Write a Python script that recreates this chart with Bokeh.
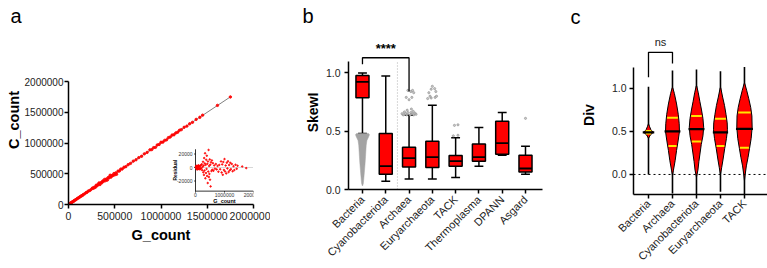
import numpy as np
from math import pi
from bokeh.plotting import figure
from bokeh.layouts import row, column
from bokeh.models import (Range1d, FixedTicker, BasicTickFormatter, PrintfTickFormatter, Span)
from bokeh.core.properties import value
from bokeh.embed import file_html
from bokeh.resources import INLINE

FONT = "Liberation Sans"

# ------------------------------------------------------------------ data: panel a
g_count = [15000, 22000, 30000, 38000, 45000, 55000, 62000, 70000, 80000, 90000,
           100000, 110000, 120000, 130000, 140000, 150000, 160000, 175000, 190000, 200000,
           215000, 230000, 245000, 260000, 270000, 280000, 290000, 300000, 310000, 320000,
           330000, 340000, 350000, 360000, 370000, 380000, 390000, 400000, 410000, 420000,
           430000, 440000, 450000, 460000, 470000, 480000, 490000, 500000, 510000, 520000,
           535000, 550000, 565000, 580000, 600000, 620000, 645000, 670000, 700000, 730000,
           760000, 790000, 820000, 850000, 880000, 900000, 920000, 940000, 960000, 980000,
           1000000, 1020000, 1040000, 1060000, 1080000, 1100000, 1120000, 1140000, 1160000, 1180000,
           1200000, 1220000, 1250000, 1280000, 1310000, 1340000, 1380000, 1420000, 1450000, 1610000,
           1750000]
residual = [1200, -800, 2500, -1500, 600, -3000, 1800, 2000, -2200, 900,
            3200, -2100, 1500, -600, 2200, -2800, 2100, -1400, 3600, -1200,
            4800, -3900, 1000, 8500, -7200, 2800, -11000, 14000, -4500, 6100,
            21000, -16000, 3900, -8200, 11500, -2100, 17500, -12500, 5500, -23000,
            9000, -6000, 26000, -14000, 2400, -9500, 12000, -18000, 4200, -28000,
            7600, -5200, 10500, -3300, 6400, -4800, 3100, -1700, 5200, -2800,
            2300, -6200, 3800, -2600, 9000, -7400, 4600, -10800, 8200, -3600,
            12500, -5900, 2900, -8800, 7100, -1400, 9200, -6800, 3700, -4300,
            6900, -2500, 5300, -5600, 2000, -3800, 4100, -1900, 2600, 1500,
            -900]
c_count = [g + r for g, r in zip(g_count, residual)]
fit_g = [0, 1750000]
fit_c = [0, 1750000]
a_ticks = [0, 500000, 1000000, 1500000, 2000000]
inset_x_ticks = [0, 1000000, 2000000]
inset_y_ticks = [-20000, 0, 20000]
inset_y_limits = [-35000, 27000]

# ------------------------------------------------------------------ data: panel b
b_cats = ["Bacteria", "Cyanobacteriota", "Archaea", "Euryarchaeota", "TACK",
          "Thermoplasma", "DPANN", "Asgard"]
b_low = [0.48, 0.071, 0.091, 0.091, 0.103, 0.200, 0.294, 0.131]
b_q1 = [0.786, 0.131, 0.194, 0.189, 0.200, 0.243, 0.303, 0.151]
b_med = [0.923, 0.200, 0.269, 0.277, 0.243, 0.277, 0.397, 0.180]
b_q3 = [0.977, 0.480, 0.363, 0.414, 0.291, 0.391, 0.586, 0.294]
b_high = [1.000, 0.974, 0.637, 0.723, 0.443, 0.531, 0.660, 0.371]
out_cat = [2] * 22 + [3] * 10 + [4] * 4 + [7]
out_val = [0.64, 0.64, 0.64, 0.64, 0.645, 0.65, 0.65, 0.65, 0.655, 0.66, 0.66, 0.665, 0.67,
           0.68, 0.69, 0.77, 0.79, 0.79, 0.83, 0.84, 0.85, 0.85,
           0.78, 0.785, 0.79, 0.80, 0.80, 0.83, 0.84, 0.86, 0.865, 0.885,
           0.46, 0.465, 0.55, 0.555,
           0.61]
out_jit = [-0.25, -0.1, 0.05, 0.2, 0.3, -0.3, -0.15, 0.12, 0.25, -0.05, 0.08, -0.2, 0.18,
           -0.08, 0.1, 0.0, -0.12, 0.12, 0.2, 0.08, -0.05, 0.15,
           -0.2, -0.05, 0.12, -0.1, 0.18, -0.15, 0.15, -0.05, 0.1, 0.0,
           -0.1, 0.1, -0.05, 0.1,
           0.0]
# Bacteria outlier swarm outline (value level, half width in category units)
swarm_levels = [0.48, 0.47, 0.45, 0.42, 0.38, 0.33, 0.28, 0.22, 0.16, 0.10, 0.05, 0.03]
swarm_half = [0.26, 0.30, 0.26, 0.19, 0.16, 0.145, 0.13, 0.11, 0.085, 0.06, 0.035, 0.0]
b_sig = "****"

# ------------------------------------------------------------------ data: panel c
c_cats = ["Bacteria", "Archaea", "Cyanobacteriota", "Euryarchaeota", "TACK"]
c_min = [0.0, -0.22, -0.25, -0.20, -0.25]
c_q1 = [0.475, 0.33, 0.384, 0.33, 0.31]
c_med = [0.49, 0.50, 0.527, 0.49, 0.53]
c_q3 = [0.505, 0.66, 0.68, 0.647, 0.72]
c_max = [1.02, 1.21, 1.22, 1.20, 1.25]
vio_levels = [
    [0.42, 0.46, 0.49, 0.52, 0.56, 0.59],
    [-0.01, 0.05, 0.16, 0.28, 0.40, 0.50, 0.59, 0.70, 0.82, 0.94, 1.01],
    [-0.03, 0.05, 0.15, 0.25, 0.35, 0.45, 0.55, 0.65, 0.75, 0.85, 0.95, 1.03],
    [0.0, 0.08, 0.18, 0.30, 0.42, 0.52, 0.60, 0.70, 0.80, 0.90, 1.01],
    [-0.07, 0.0, 0.10, 0.20, 0.30, 0.42, 0.55, 0.68, 0.78, 0.88, 0.98, 1.06],
]
vio_half = [
    [0.0, 0.08, 0.20, 0.10, 0.04, 0.0],
    [0.0, 0.04, 0.11, 0.17, 0.24, 0.29, 0.28, 0.24, 0.17, 0.08, 0.01],
    [0.0, 0.06, 0.10, 0.15, 0.20, 0.27, 0.30, 0.27, 0.21, 0.14, 0.075, 0.01],
    [0.0, 0.05, 0.11, 0.175, 0.25, 0.29, 0.28, 0.23, 0.17, 0.09, 0.01],
    [0.0, 0.03, 0.08, 0.15, 0.21, 0.28, 0.32, 0.31, 0.26, 0.18, 0.09, 0.01],
]
c_sig = "ns"

panel_letters = ["a", "b", "c"]

RED = "#ff0000"
YELLOW = "#ffe600"
GRAY = "#a3a3a3"
STRIP_H = 30   # height of the strip holding the panel letters
TOP = 5        # remaining top border of all panels (frames start at y = 35)


def style(p, title_size, tick_standoff=3, label_standoff=3):
    p.outline_line_color = None
    p.xgrid.grid_line_color = None
    p.ygrid.grid_line_color = None
    p.background_fill_color = "white"
    p.border_fill_color = "white"
    for ax in p.axis:
        ax.axis_line_width = 1.5
        ax.axis_line_color = "black"
        ax.major_tick_line_width = 1.5
        ax.major_tick_line_color = "black"
        ax.major_tick_out = 4
        ax.major_tick_in = 0
        ax.minor_tick_line_color = None
        ax.major_label_text_font = FONT
        ax.major_label_text_font_size = "10.5px"
        ax.major_label_text_color = "#222222"
        ax.major_label_standoff = tick_standoff
        ax.axis_label_text_font = FONT
        ax.axis_label_text_font_style = "bold"
        ax.axis_label_text_font_size = title_size
        ax.axis_label_text_color = "black"
        ax.axis_label_standoff = label_standoff


# ================================================================== letter strip
strip = figure(width=767, height=STRIP_H, x_range=Range1d(0, 767), y_range=Range1d(STRIP_H, 0),
               x_axis_type=None, y_axis_type=None, output_backend="svg", toolbar_location=None,
               title=None, min_border=0)
strip.outline_line_color = None
strip.xgrid.grid_line_color = None
strip.ygrid.grid_line_color = None
strip.text([10, 302, 570], [15, 15, 16], text=panel_letters, text_align="left",
           text_baseline="middle", text_font=value(FONT), text_font_size="20px",
           text_color="black")

# ================================================================== panel a
FA_W, FA_H = 185, 169
A_YTOP = 2000000 * FA_H / 123          # axis 0..2e6 occupies the lower 123 px
pa = figure(frame_width=FA_W, frame_height=FA_H, x_range=Range1d(0, 2000000),
            y_range=Range1d(0, A_YTOP), output_backend="svg", toolbar_location=None,
            title=None, min_border_left=68, min_border_right=17, min_border_top=TOP,
            min_border_bottom=64)
style(pa, "14.5px", tick_standoff=1, label_standoff=0)
for ax in (pa.xaxis[0], pa.yaxis[0]):
    ax.ticker = FixedTicker(ticks=a_ticks)
    ax.formatter = BasicTickFormatter(use_scientific=False)
pa.xaxis.major_label_standoff = 3
pa.xaxis.axis_label_standoff = 4
pa.yaxis.major_label_text_font_size = "10px"
pa.yaxis.bounds = (0, 2000000)
pa.xaxis.axis_label = "G_count"
pa.yaxis.axis_label = "C_count"

pa.line(fit_g, fit_c, line_color="#808080", line_width=1)
pa.scatter(g_count, c_count, size=2.4, color=RED, alpha=0.9)

# inset, mapped into the frame through extra ranges
INSET_LEFT, INSET_W = 127, 58           # px from frame left, px for 0..2e6
INSET_ZERO, INSET_PX_20K = 37, 13.5     # px above frame bottom for 0, px per 20000
ux = 2000000 / INSET_W
uy = 20000 / INSET_PX_20K
ix0 = -INSET_LEFT * ux
iy0 = -INSET_ZERO * uy
pa.extra_x_ranges = {"ix": Range1d(ix0, ix0 + FA_W * ux)}
pa.extra_y_ranges = {"iy": Range1d(iy0, iy0 + FA_H * uy)}
kw = dict(x_range_name="ix", y_range_name="iy")
ylo, yhi = inset_y_limits
xhi = inset_x_ticks[-1]
pa.segment([0], [0], [xhi], [0], line_color="#9a9a9a", line_width=0.8, line_dash="1 1", **kw)
pa.segment([0, 0], [ylo, ylo], [0, xhi], [yhi, ylo], line_color="black", line_width=0.8, **kw)
pa.segment([-1.5 * ux] * 3, inset_y_ticks, [0] * 3, inset_y_ticks, line_color="black",
           line_width=0.7, **kw)
pa.segment(inset_x_ticks, [ylo - 1.5 * uy] * 3, inset_x_ticks, [ylo] * 3, line_color="black",
           line_width=0.7, **kw)
pa.scatter(g_count, residual, size=1.5, color=RED, alpha=0.85, **kw)
pa.text([0] * 3, inset_y_ticks, text=[str(t) for t in inset_y_ticks], x_offset=-3,
        text_align="right", text_baseline="middle", text_font=value(FONT),
        text_font_size="5px", text_color="#333333", **kw)
pa.text(inset_x_ticks, [ylo] * 3, text=[str(t) for t in inset_x_ticks], y_offset=1.5,
        text_align="center", text_baseline="top", text_font=value(FONT),
        text_font_size="5px", text_color="#333333", **kw)
pa.text([xhi / 2], [ylo], text=["G_count"], y_offset=6.5, text_align="center",
        text_baseline="top", text_font=value(FONT), text_font_size="5.5px",
        text_font_style="bold", text_color="black", **kw)
pa.text([0], [(ylo + yhi) / 2], text=["Residual"], x_offset=-21, angle=pi / 2,
        text_align="center", text_baseline="middle", text_font=value(FONT),
        text_font_size="5px", text_font_style="bold", text_color="black", **kw)

# ================================================================== panel b
nb = len(b_cats)
xb = list(range(nb))
FB_W, FB_H = 194, 154
pb = figure(frame_width=FB_W, frame_height=FB_H, x_range=Range1d(-0.6, 7.73),
            y_range=Range1d(0, FB_H / 116.6), output_backend="svg", toolbar_location=None,
            title=None, min_border_left=78, min_border_right=3, min_border_top=TOP,
            min_border_bottom=79)
style(pb, "14px", tick_standoff=4, label_standoff=2)
pb.yaxis.axis_label = "SkewI"
pb.yaxis.bounds = (0, 1.1)
pb.yaxis.ticker = FixedTicker(ticks=[0, 0.5, 1.0])
pb.yaxis.formatter = PrintfTickFormatter(format="%.1f")
pb.xaxis.ticker = FixedTicker(ticks=xb)
pb.xaxis.major_label_overrides = {i: c for i, c in enumerate(b_cats)}
pb.xaxis.major_label_orientation = pi / 4
pb.xaxis.major_label_text_font_size = "11px"

BW, CW = 0.28, 0.19
pb.segment(x0=[1.5], y0=[0], x1=[1.5], y1=[1.1], line_color="#b0b0b0", line_width=1,
           line_dash="1 2")
pb.segment(xb, b_low, xb, b_high, line_color="black", line_width=1.5)
pb.segment([x - CW for x in xb], b_high, [x + CW for x in xb], b_high, line_color="black",
           line_width=1.5)
pb.segment([x - CW for x in xb], b_low, [x + CW for x in xb], b_low, line_color="black",
           line_width=1.5)
pb.quad(left=[x - BW for x in xb], right=[x + BW for x in xb], bottom=b_q1, top=b_q3,
        fill_color=RED, line_color="black", line_width=1.5)
pb.segment([x - BW for x in xb], b_med, [x + BW for x in xb], b_med, line_color="black",
           line_width=1.8)
sx_left = [xb[0] - h for h in swarm_half]
sx_right = [xb[0] + h for h in swarm_half]
pb.patch(sx_left + sx_right[::-1], swarm_levels + swarm_levels[::-1], fill_color=GRAY,
         line_color=GRAY, line_width=0.5)
pb.scatter([xb[c] + j for c, j in zip(out_cat, out_jit)], out_val, size=2.2,
           fill_color="#c8c8c8", line_color="#8a8a8a", line_width=0.6)
# significance bracket Bacteria vs Archaea
B_TOP, B_LEFT, B_RIGHT = 1.13, 1.075, 0.84
pb.multi_line([[0, 0, 2, 2]], [[B_LEFT, B_TOP, B_TOP, B_RIGHT]], line_color="black",
              line_width=1.3)
pb.text([1], [B_TOP], text=[b_sig], y_offset=-2, text_align="center",
        text_baseline="bottom", text_font=value(FONT), text_font_size="13px",
        text_font_style="bold", text_color="black")

# ================================================================== panel c
nc = len(c_cats)
xc = list(range(nc))
FC_W, FC_H = 134, 159
pc = figure(frame_width=FC_W, frame_height=FC_H, x_range=Range1d(-0.625, 4.96),
            y_range=Range1d(-0.233, 1.616), output_backend="svg", toolbar_location=None,
            title=None, min_border_left=88, min_border_right=0, min_border_top=TOP,
            min_border_bottom=74)
style(pc, "14px", tick_standoff=3, label_standoff=12)
pc.yaxis.axis_label = "Div"
pc.yaxis.bounds = (-0.233, 1.245)
pc.yaxis.ticker = FixedTicker(ticks=[0, 0.5, 1.0])
pc.yaxis.formatter = PrintfTickFormatter(format="%.1f")
pc.xaxis.ticker = FixedTicker(ticks=xc)
pc.xaxis.major_label_overrides = {i: c for i, c in enumerate(c_cats)}
pc.xaxis.major_label_orientation = pi / 4
pc.xaxis.major_label_text_font_size = "11px"

pc.segment(xc, c_min, xc, c_max, line_color="black", line_width=1.6)
for i in xc:
    lv, hw = vio_levels[i], vio_half[i]
    xs = [i - h for h in hw] + [i + h for h in hw[::-1]]
    ys = lv + lv[::-1]
    pc.patch(xs, ys, fill_color=RED, line_color="black", line_width=1)
    for q in (c_q1[i], c_q3[i]):
        w = float(np.interp(q, lv, hw)) - 0.03
        pc.segment([i - w], [q], [i + w], [q], line_color=YELLOW, line_width=2)
    wm = float(np.interp(c_med[i], lv, hw)) + 0.04
    pc.segment([i - wm], [c_med[i]], [i + wm], [c_med[i]], line_color="black", line_width=2.2)
pc.add_layout(Span(location=0, dimension="width", line_color="black", line_width=1,
                   line_dash="2 3"))
C_TOP, C_LEFT, C_RIGHT = 1.42, 1.13, 1.29
pc.multi_line([[0, 0, 1, 1]], [[C_LEFT, C_TOP, C_TOP, C_RIGHT]], line_color="black",
              line_width=1.3)
pc.text([0.5], [C_TOP], text=[c_sig], y_offset=-4, text_align="center",
        text_baseline="bottom", text_font=value(FONT), text_font_size="11px",
        text_color="#222222")

layout = column(strip, row(pa, pb, pc, spacing=0), spacing=0)
open("out.html", "w").write(file_html(layout, INLINE))
